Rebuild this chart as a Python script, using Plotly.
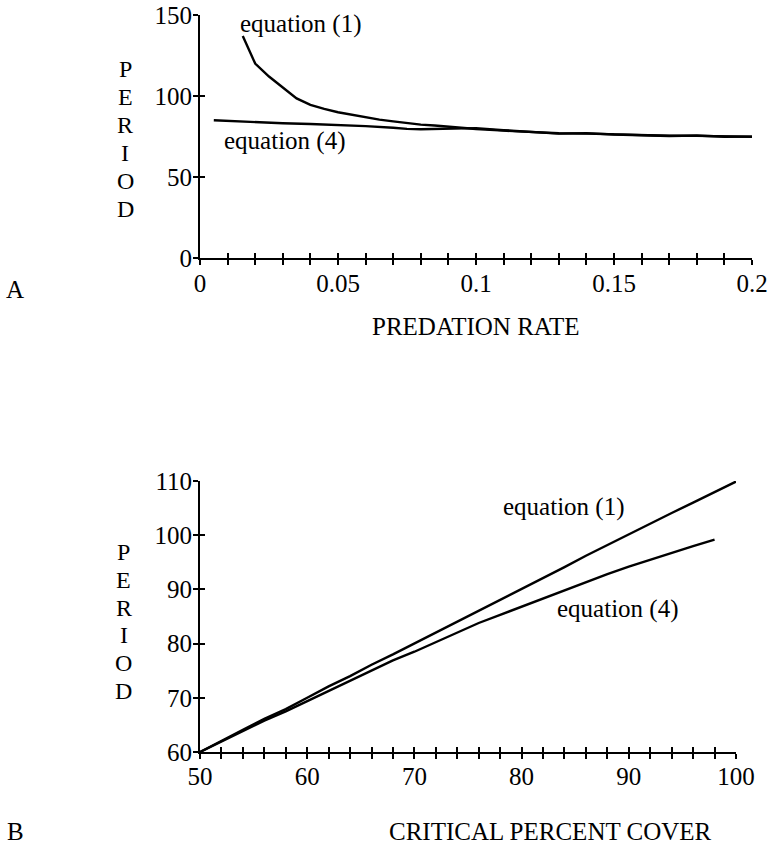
import plotly.graph_objects as go

# ---------------- data ----------------
# Panel A: period vs predation rate
a_eq1_x = [0.0155, 0.02, 0.025, 0.03, 0.035, 0.04, 0.045, 0.05, 0.055, 0.06, 0.065, 0.07,
           0.075, 0.08, 0.085, 0.09, 0.095, 0.10, 0.11, 0.12, 0.13, 0.14, 0.15, 0.16,
           0.17, 0.18, 0.19, 0.20]
a_eq1_y = [137, 120, 112, 105, 98.5, 94.5, 92, 90, 88.5, 86.6, 85.4, 84.3,
           83.2, 82.3, 81.8, 81.0, 80.3, 79.6, 78.6, 77.6, 77.0, 76.8, 76.3, 75.7,
           75.5, 75.4, 74.9, 74.8]
a_eq4_x = [0.005, 0.01, 0.02, 0.03, 0.04, 0.05, 0.06, 0.07, 0.075, 0.08, 0.09, 0.10,
           0.11, 0.12, 0.13, 0.14, 0.15, 0.16, 0.17, 0.18, 0.19, 0.20]
a_eq4_y = [85.0, 84.6, 83.8, 83.2, 82.7, 82.1, 81.4, 80.4, 79.7, 79.5, 80.0, 80.2,
           78.9, 77.8, 76.8, 77.1, 76.2, 75.8, 75.3, 75.6, 74.8, 74.9]

# Panel B: period vs critical percent cover
b_eq1_x = [50, 52, 54, 56, 58, 60, 62, 64, 66, 68, 70, 72, 74, 76, 78, 80,
           82, 84, 86, 88, 90, 92, 94, 96, 98, 100]
b_eq1_y = [60, 62.1, 64.1, 66.1, 67.9, 70.0, 72.1, 74.0, 76.1, 78.0, 80.0, 82.1,
           84.0, 86.0, 88.1, 90.0, 92.0, 94.1, 96.2, 98.2, 100.2, 102.1, 104.1,
           106.0, 108.0, 109.9]
b_eq4_x = [50, 52, 54, 56, 58, 60, 62, 64, 66, 68, 70, 72, 74, 76, 78, 80,
           82, 84, 86, 88, 90, 92, 94, 96, 98]
b_eq4_y = [60, 61.9, 63.8, 65.8, 67.5, 69.4, 71.3, 73.1, 75.0, 76.9, 78.5, 80.3,
           82.0, 83.8, 85.3, 86.8, 88.3, 89.9, 91.3, 92.8, 94.2, 95.5, 96.8, 98.0, 99.2]

a_xtick_vals = [0, 0.05, 0.1, 0.15, 0.2]
a_xtick_text = ["0", "0.05", "0.1", "0.15", "0.2"]
a_ytick_vals = [0, 50, 100, 150]
b_xtick_vals = [50, 60, 70, 80, 90, 100]
b_ytick_vals = [60, 70, 80, 90, 100, 110]
ylabel_letters = ["P", "E", "R", "I", "O", "D"]

# ---------------- layout helpers ----------------
W, H = 774, 850
FONT = "'Liberation Serif', 'Times New Roman', Times, serif"


def px(x):
    return x / W


def py(y):
    return 1 - y / H


line = dict(color="black", width=2.4)
fig = go.Figure()
fig.add_trace(go.Scatter(x=a_eq1_x, y=a_eq1_y, mode="lines", line=line, xaxis="x", yaxis="y"))
fig.add_trace(go.Scatter(x=a_eq4_x, y=a_eq4_y, mode="lines", line=line, xaxis="x", yaxis="y"))
fig.add_trace(go.Scatter(x=b_eq1_x, y=b_eq1_y, mode="lines", line=line, xaxis="x2", yaxis="y2"))
fig.add_trace(go.Scatter(x=b_eq4_x, y=b_eq4_y, mode="lines", line=line, xaxis="x2", yaxis="y2"))
# empty traces that carry the inward tick overlay axes
fig.add_trace(go.Scatter(x=[], y=[], xaxis="x3", yaxis="y3", hoverinfo="skip"))
fig.add_trace(go.Scatter(x=[], y=[], xaxis="x4", yaxis="y4", hoverinfo="skip"))

tickfont = dict(family=FONT, size=25, color="black")
TL = 5
common = dict(showgrid=False, zeroline=False, linecolor="black", linewidth=2,
              tickcolor="black", tickwidth=1.6, ticklen=TL, fixedrange=True,
              automargin=False)
minor_common = dict(ticklen=TL, tickcolor="black", tickwidth=1.6)

a_xdom = [px(200), px(752)]
a_ydom = [py(258), py(15)]
b_xdom = [px(200), px(736)]
b_ydom = [py(752), py(481)]

fig.update_layout(
    width=W, height=H, autosize=False,
    margin=dict(l=0, r=0, t=0, b=0, pad=0),
    paper_bgcolor="white", plot_bgcolor="white",
    showlegend=False,
    font=dict(family=FONT, color="black"),
    xaxis=dict(domain=a_xdom, range=[0, 0.2], anchor="y", showline=True,
               tickvals=a_xtick_vals, ticktext=a_xtick_text, ticks="outside",
               minor=dict(dtick=0.01, ticks="outside", **minor_common),
               tickfont=tickfont, ticklabelstandoff=-3, **common),
    yaxis=dict(domain=a_ydom, range=[0, 150], anchor="x", showline=True,
               tickvals=a_ytick_vals, ticks="outside", tickfont=tickfont,
               ticklabelstandoff=-4, **common),
    xaxis3=dict(range=[0, 0.2], overlaying="x", anchor="y3", showline=False,
                tickmode="linear", tick0=0, dtick=0.01, ticks="inside",
                showticklabels=False, **common),
    yaxis3=dict(range=[0, 150], overlaying="y", anchor="x3", showline=False,
                tickvals=a_ytick_vals, ticks="inside", showticklabels=False, **common),
    xaxis2=dict(domain=b_xdom, range=[50, 100], anchor="y2", showline=True,
                tickvals=b_xtick_vals, ticks="outside",
                minor=dict(dtick=2, ticks="outside", **minor_common),
                tickfont=tickfont, ticklabelstandoff=-4, **common),
    yaxis2=dict(domain=b_ydom, range=[60, 110], anchor="x2", showline=True,
                tickvals=b_ytick_vals, ticks="outside", tickfont=tickfont,
                ticklabelstandoff=-4, **common),
    xaxis4=dict(range=[50, 100], overlaying="x2", anchor="y4", showline=False,
                tickmode="linear", tick0=50, dtick=2, ticks="inside",
                showticklabels=False, **common),
    yaxis4=dict(range=[60, 110], overlaying="y2", anchor="x4", showline=False,
                tickvals=b_ytick_vals, ticks="inside", showticklabels=False, **common),
)

anns = []


def ann(text, x, y, size=25, xanchor="center"):
    anns.append(dict(text=text, x=px(x), y=py(y), xref="paper", yref="paper",
                     showarrow=False, xanchor=xanchor, yanchor="middle",
                     font=dict(family=FONT, size=size, color="black")))


def vertical_label(letters, x, y_first, step):
    for i, ch in enumerate(letters):
        ann(ch, x, y_first + i * step, size=24)


# Panel A texts
ann("equation (1)", 300, 24)
ann("equation (4)", 284, 141)
vertical_label(ylabel_letters, 125, 69, 28)
ann("PREDATION RATE", 476, 326)
ann("A", 15, 289)
# Panel B texts
ann("equation (1)", 563, 507)
ann("equation (4)", 617, 609)
vertical_label(ylabel_letters, 124, 552, 27.8)
ann("CRITICAL PERCENT COVER", 550, 831)
ann("B", 15, 831)

fig.update_layout(annotations=anns)
fig.write_html("out.html")
